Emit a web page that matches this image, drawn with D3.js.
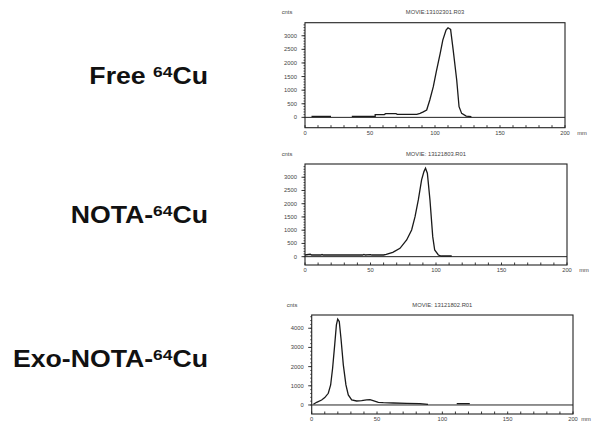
<!DOCTYPE html>
<html>
<head>
<meta charset="utf-8">
<script src="https://cdn.jsdelivr.net/npm/d3@7"></script>
<style>
  body { margin: 0; background: #fff; }
  svg { display: block; }
</style>
</head>
<body>
<svg id="svg1"></svg>
<script>
const width = 593;
const height = 426;
const svg = d3.select("#svg1")
    .attr("width", width)
    .attr("height", height);

// sample names (left labels)
const names = ["Free ", "NOTA-", "Exo-NOTA-"];
const titles = ["MOVIE:13102301.R03", "MOVIE:  13121803.R01", "MOVIE:  13121802.R01"];

// x ticks (mm) and y ticks (cnts)
const xTicks = [0, 50, 100, 150, 200];
const yTicks1 = [0, 500, 1000, 1500, 2000, 2500, 3000];
const yTicks2 = [0, 500, 1000, 1500, 2000, 2500, 3000];
const yTicks3 = [0, 1000, 2000, 3000, 4000];

// traces: [mm, cnts]; pieces split where the trace has gaps
const free1 = [[5, 35], [20, 35]];
const free2 = [[36, 35], [54, 35], [54, 100], [61, 100], [62, 135], [70, 135], [71, 110], [86, 110],
    [88.5, 147], [91, 200], [93.6, 270], [96, 637], [98.7, 1127], [101, 1678], [104, 2352],
    [106, 2842], [108.5, 3210], [110, 3295], [112, 3234], [114, 2474], [116.7, 1372],
    [118.5, 392], [120.5, 147], [124, 49], [128, 25]];

const nota = [[0, 63], [4, 90], [5, 63], [12, 63], [13, 80], [14, 63], [44, 63], [45, 85], [46, 63],
    [50, 80], [51, 63], [60, 63], [62, 88], [67, 164], [72.5, 315], [77.6, 630], [81.4, 1008],
    [84, 1512], [86.5, 2142], [89, 2898], [90.8, 3213], [92, 3339], [93.4, 3150], [95.4, 2142],
    [97.5, 756], [99, 252], [101.8, 63], [104, 25], [112, 25]];

const exo1 = [[1.3, 35], [3.8, 139], [7.6, 261], [10, 383], [12.7, 609], [14.5, 1044], [16, 1914],
    [17.6, 3132], [18.9, 4176], [19.9, 4472], [21.1, 4350], [22.4, 3480], [24.2, 2088],
    [26.2, 1044], [28, 522], [30.6, 261], [34.4, 209], [38.2, 226], [42, 261], [44.6, 278],
    [47, 226], [51, 139], [54.8, 122], [62.4, 104], [72.6, 87], [82.8, 70], [89, 35]];
const exo2 = [[111, 70], [121, 70]];

const panels = [
    {name: names[0], title: titles[0], yTicks: yTicks1, minor: 100, yDomain: [-380, 3480],
     box: [305, 565, 22.7, 127.7], traces: [free1, free2], labelY: 84, cnts: 287, mm: 582},
    {name: names[1], title: titles[1], yTicks: yTicks2, minor: 100, yDomain: [-315, 3500],
     box: [305, 567, 164, 265], traces: [nota], labelY: 223, cnts: 287, mm: 584},
    {name: names[2], title: titles[2], yTicks: yTicks3, minor: 200, yDomain: [-470, 4690],
     box: [311.7, 573, 315, 414], traces: [exo1, exo2], labelY: 367, cnts: 292, mm: 586}
];

const smallFont = "Liberation Sans, Arial, sans-serif";

panels.forEach(function(p) {
    const [left, right, top, bottom] = p.box;
    const x = d3.scaleLinear().domain([0, 200]).range([left, right]);
    const y = d3.scaleLinear().domain(p.yDomain).range([bottom, top]);
    const g = svg.append("g");

    // left label with superscript mass number (the slide stretches it sideways)
    const lab = g.append("text")
        .attr("transform", "translate(208," + p.labelY + ") scale(1.16,1)")
        .attr("text-anchor", "end")
        .style("font-family", "Liberation Sans, Arial, sans-serif")
        .style("font-weight", "bold")
        .style("font-size", "23px")
        .style("fill", "#111");
    lab.append("tspan").text(p.name);
    lab.append("tspan").attr("dy", -7).style("font-size", "15px").text("64");
    lab.append("tspan").attr("dy", 7).text("Cu");

    // minor and major ticks on the left (outside the box)
    const yMinor = d3.range(0, p.yDomain[1], p.minor);
    g.selectAll(".ym").data(yMinor).enter().append("line")
        .attr("x1", left - 1.5).attr("x2", left)
        .attr("y1", function(d) { return y(d) }).attr("y2", function(d) { return y(d) })
        .style("stroke", "#222").style("stroke-width", 0.8);
    g.selectAll(".yM").data(p.yTicks).enter().append("line")
        .attr("x1", left - 3.5).attr("x2", left)
        .attr("y1", function(d) { return y(d) }).attr("y2", function(d) { return y(d) })
        .style("stroke", "#222").style("stroke-width", 0.9);
    g.selectAll(".yl").data(p.yTicks).enter().append("text")
        .attr("x", left - 8)
        .attr("y", function(d) { return y(d) + 2 })
        .attr("text-anchor", "end")
        .style("font-family", smallFont).style("font-size", "5.8px").style("fill", "#444")
        .text(function(d) { return d });

    // x ticks every 10 mm, inside the bottom edge
    const xMinor = d3.range(0, 201, 10);
    g.selectAll(".xm").data(xMinor).enter().append("line")
        .attr("x1", function(d) { return x(d) }).attr("x2", function(d) { return x(d) })
        .attr("y1", bottom).attr("y2", bottom - 2.5)
        .style("stroke", "#222").style("stroke-width", 0.9);
    g.selectAll(".xl").data(xTicks).enter().append("text")
        .attr("x", function(d) { return x(d) })
        .attr("y", bottom + 7)
        .attr("text-anchor", "middle")
        .style("font-family", smallFont).style("font-size", "5.8px").style("fill", "#444")
        .text(function(d) { return d });

    g.append("text").attr("x", p.mm).attr("y", bottom + 7)
        .attr("text-anchor", "middle")
        .style("font-family", smallFont).style("font-size", "5.8px").style("fill", "#444")
        .text("mm");
    g.append("text").attr("x", p.cnts).attr("y", top - 8.5)
        .attr("text-anchor", "middle")
        .style("font-family", smallFont).style("font-size", "5.8px").style("fill", "#444")
        .text("cnts");
    g.append("text").attr("x", (left + right) / 2).attr("y", top - 8.5)
        .attr("text-anchor", "middle")
        .style("font-family", smallFont).style("font-size", "5.8px").style("fill", "#444")
        .text(p.title);

    // frame and zero line
    g.append("rect")
        .attr("x", left).attr("y", top)
        .attr("width", right - left).attr("height", bottom - top)
        .style("fill", "none").style("stroke", "#222").style("stroke-width", 1.1);
    g.append("line")
        .attr("x1", left).attr("x2", right)
        .attr("y1", y(0)).attr("y2", y(0))
        .style("stroke", "#222").style("stroke-width", 1);

    const line = d3.line()
        .x(function(d) { return x(d[0]) })
        .y(function(d) { return y(d[1]) });
    p.traces.forEach(function(t) {
        g.append("path")
            .attr("d", line(t))
            .style("fill", "none")
            .style("stroke", "#1a1a1a")
            .style("stroke-width", 1.3);
    });
});
</script>
</body>
</html>
